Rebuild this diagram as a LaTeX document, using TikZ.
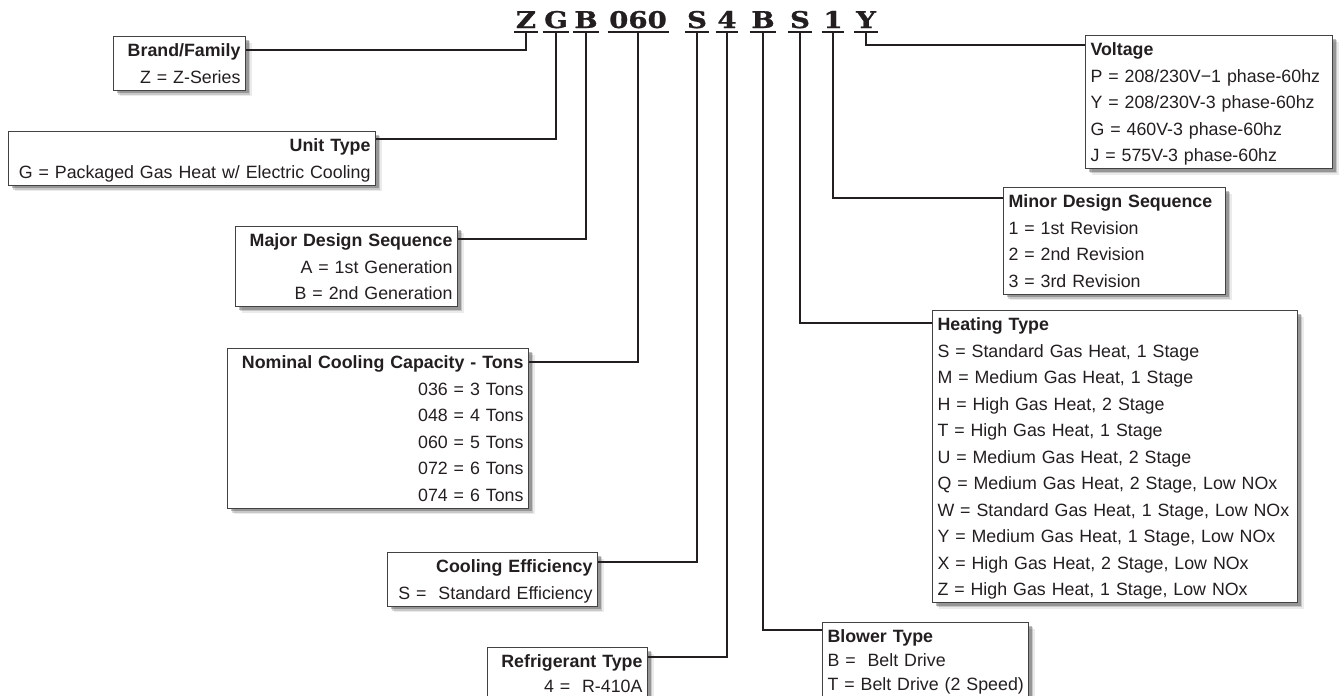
\documentclass[tikz,border=0pt]{standalone}
\usepackage{fontspec}
\setmainfont{Liberation Sans}
\newfontfamily\codefont[FakeStretch=1.2, BoldFeatures={FakeBold=1.2}]{DejaVu Serif}
\usetikzlibrary{shadows}
\definecolor{ink}{HTML}{231F20}
\newcommand{\topgap}{\rule{0pt}{20pt}}
\newcommand{\botgap}{\rule[-7pt]{0pt}{7pt}}

\begin{document}
\begin{tikzpicture}[x=1pt, y=-1pt, line join=miter,
box/.style ={draw=ink!85, line width=1pt, fill=white, anchor=north west, inner xsep=5pt, inner ysep=0pt,
  text=ink, font=\fontsize{17.8}{26.5}\selectfont,
  drop shadow={shadow xshift=6pt, shadow yshift=-6pt, fill=black, opacity=.08},
  drop shadow={shadow xshift=4.5pt, shadow yshift=-4.5pt, fill=black, opacity=.15},
  drop shadow={shadow xshift=3pt, shadow yshift=-3pt, fill=black, opacity=.25}},
lbox/.style ={box, align=right},
rbox/.style ={box, align=left},
code/.style ={anchor=base, inner xsep=1.5pt, inner ysep=4pt, text depth=0pt, text=ink,
  font=\codefont\bfseries\fontsize{23}{23}\selectfont},
link/.style ={draw=ink, line width=2pt}]
\useasboundingbox (0,0) rectangle (1344,696);

% model number
\node[code] (cZ) at (526,28) {Z};
\node[code] (cG) at (556,28) {G};
\node[code] (cB) at (586,28) {B};
\node[code] (cCap) at (638,28) {060};
\node[code] (cS) at (697,28) {S};
\node[code] (cR) at (727,28) {4};
\node[code] (cBl) at (763,28) {B};
\node[code] (cH) at (800,28) {S};
\node[code] (cM) at (833,28) {1};
\node[code] (cV) at (866,28) {Y};
\foreach \n in {cZ,cG,cB,cCap,cS,cR,cBl,cH,cM,cV}
  \draw[ink, line width=2.4pt] (\n.south west) -- (\n.south east);

% left side
\node[lbox, text width=122pt] (brand) at (113,36)
  {\topgap\textbf{Brand/Family}\\ Z = Z-Series\botgap};
\node[lbox, text width=357pt] (unit) at (8,131)
  {\topgap\textbf{Unit Type}\\ G = Packaged Gas Heat w/ Electric Cooling\botgap};
\node[lbox, text width=212pt] (major) at (235,226)
  {\topgap\textbf{Major Design Sequence}\\ A = 1st Generation\\ B = 2nd Generation\botgap};
\node[lbox, text width=291pt] (cap) at (227,348)
  {\topgap\textbf{Nominal Cooling Capacity - Tons}\\ 036 = 3 Tons\\ 048 = 4 Tons\\ 060 = 5 Tons\\
   072 = 6 Tons\\ 074 = 6 Tons\botgap};
\node[lbox, text width=200pt] (eff) at (387,552)
  {\topgap\textbf{Cooling Efficiency}\\ S =~ Standard Efficiency\botgap};
\node[lbox, text width=150pt, font=\fontsize{17.8}{25}\selectfont] (refr) at (487,647)
  {\topgap\textbf{Refrigerant Type}\\ 4 =~ R-410A\botgap};

% right side
\node[rbox, text width=237pt] (volt) at (1085,35)
  {\topgap\textbf{Voltage}\\ P = 208/230V−1 phase-60hz\\ Y = 208/230V-3 phase-60hz\\
   G = 460V-3 phase-60hz\\ J = 575V-3 phase-60hz\botgap};
\node[rbox, text width=212pt] (minor) at (1003,187)
  {\topgap\textbf{Minor Design Sequence}\\ 1 = 1st Revision\\ 2 = 2nd Revision\\ 3 = 3rd Revision\botgap};
\node[rbox, text width=355pt] (heat) at (932,310)
  {\topgap\textbf{Heating Type}\\ S = Standard Gas Heat, 1 Stage\\ M = Medium Gas Heat, 1 Stage\\
   H = High Gas Heat, 2 Stage\\ T = High Gas Heat, 1 Stage\\ U = Medium Gas Heat, 2 Stage\\
   Q = Medium Gas Heat, 2 Stage, Low NOx\\ W = Standard Gas Heat, 1 Stage, Low NOx\\
   Y = Medium Gas Heat, 1 Stage, Low NOx\\ X = High Gas Heat, 2 Stage, Low NOx\\
   Z = High Gas Heat, 1 Stage, Low NOx\botgap};
\node[rbox, text width=196pt, font=\fontsize{17.8}{24}\selectfont] (blow) at (822,622)
  {\topgap\textbf{Blower Type}\\ B =~ Belt Drive\\ \mbox{T = Belt Drive (2 Speed)}\botgap};

% connectors
\draw[link] ([yshift=-14pt]brand.north east) -| (cZ.south);
\draw[link] ([yshift=-8pt]unit.north east) -| (cG.south);
\draw[link] ([yshift=-13pt]major.north east) -| (cB.south);
\draw[link] ([yshift=-14pt]cap.north east) -| (cCap.south);
\draw[link] ([yshift=-10pt]eff.north east) -| (cS.south);
\draw[link] ([yshift=-10pt]refr.north east) -| (cR.south);
\draw[link] ([yshift=-10pt]volt.north west) -| (cV.south);
\draw[link] ([yshift=-11pt]minor.north west) -| (cM.south);
\draw[link] ([yshift=-13pt]heat.north west) -| (cH.south);
\draw[link] ([yshift=-8pt]blow.north west) -| (cBl.south);
\end{tikzpicture}
\end{document}
